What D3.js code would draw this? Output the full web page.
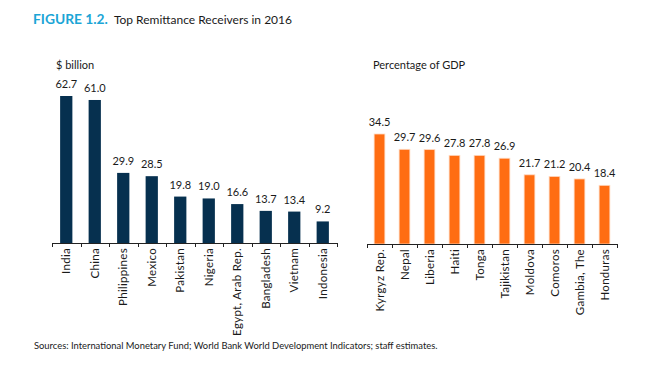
<!DOCTYPE html>
<html>
<head>
<meta charset="utf-8">
<title>Top Remittance Receivers in 2016</title>
<script src="https://cdnjs.cloudflare.com/ajax/libs/d3/7.8.5/d3.min.js"></script>
<style>
	body, html { margin: 0; background: #fff; }
	text { font-family: Lato, "Open Sans", sans-serif; fill: #1a1a1a; }
	.domain, .tick line { stroke: #222; }
</style>
</head>
<body>
<div id="chart"></div>
<script>
	// data
	var usdCountries = ["India", "China", "Philippines", "Mexico", "Pakistan", "Nigeria", "Egypt, Arab Rep.", "Bangladesh", "Vietnam", "Indonesia"];
	var usdValues = [62.7, 61.0, 29.9, 28.5, 19.8, 19.0, 16.6, 13.7, 13.4, 9.2];
	var gdpCountries = ["Kyrgyz Rep.", "Nepal", "Liberia", "Haiti", "Tonga", "Tajikistan", "Moldova", "Comoros", "Gambia, The", "Honduras"];
	var gdpValues = [34.5, 29.7, 29.6, 27.8, 27.8, 26.9, 21.7, 21.2, 20.4, 18.4];

	var w = 665, h = 366;
	var svg = d3.select("#chart").append("svg")
		.attr("width", w)
		.attr("height", h);

	// title
	var title = svg.append("text")
		.attr("x", 33)
		.attr("y", 24);
	title.append("tspan")
		.attr("font-weight", "bold")
		.style("font-size", "13.8px")
		.style("fill", "#1ba5d6")
		.text("FIGURE 1.2.");
	title.append("tspan")
		.attr("dx", 6)
		.style("font-size", "12px")
		.text("Top Remittance Receivers in 2016");

	function panel(opts) {
		var x = d3.scaleBand()
			.domain(opts.cats)
			.range([opts.x0, opts.x1])
			.paddingInner(0.57)
			.paddingOuter(0.285);
		var y = d3.scaleLinear()
			.domain([0, opts.vmax])
			.range([opts.base, opts.top]);

		var g = svg.append("g");

		g.append("text")
			.attr("x", opts.labelX)
			.attr("y", 69)
			.style("font-size", "11px")
			.text(opts.unit);

		g.selectAll("rect").data(opts.vals)
			.enter().append("rect")
			.attr("x", function (d, i) { return x(opts.cats[i]); })
			.attr("y", function (d) { return y(d); })
			.attr("width", x.bandwidth())
			.attr("height", function (d) { return opts.base - y(d); })
			.attr("fill", opts.color)
			.attr("stroke", opts.stroke)
			.attr("stroke-width", opts.stroke == "none" ? 0 : 0.8);

		g.selectAll(".val").data(opts.vals)
			.enter().append("text")
			.attr("class", "val")
			.attr("x", function (d, i) { return x(opts.cats[i]) + x.bandwidth() / 2; })
			.attr("y", function (d) { return y(d) - 8; })
			.attr("text-anchor", "middle")
			.style("font-size", "11px")
			.text(function (d) { return d.toFixed(1); });

		// axis with ticks between bands
		var step = x.step();
		var ticks = d3.range(opts.cats.length + 1).map(function (i) { return opts.x0 + i * step; });
		g.append("line")
			.attr("class", "domain")
			.attr("x1", opts.x0).attr("x2", opts.x1)
			.attr("y1", opts.base + 0.5).attr("y2", opts.base + 0.5);
		g.selectAll(".tk").data(ticks)
			.enter().append("line")
			.attr("class", "tk")
			.attr("stroke", "#222")
			.attr("x1", function (d) { return Math.round(d) + 0.5; })
			.attr("x2", function (d) { return Math.round(d) + 0.5; })
			.attr("y1", opts.base)
			.attr("y2", opts.base + 4);

		g.selectAll(".cat").data(opts.cats)
			.enter().append("text")
			.attr("class", "cat")
			.attr("text-anchor", "end")
			.attr("transform", function (d) {
				return "translate(" + (x(d) + x.bandwidth() / 2 + 4) + "," + (opts.base + 5) + ") rotate(-90)";
			})
			.style("font-size", "11.5px")
			.style("letter-spacing", "0.3px")
			.text(function (d) { return d; });
	}

	panel({
		cats: usdCountries, vals: usdValues,
		x0: 52, x1: 337, base: 243, top: 96, vmax: 62.7,
		color: "#06304f", stroke: "none",
		unit: "$ billion", labelX: 56
	});

	panel({
		cats: gdpCountries, vals: gdpValues,
		x0: 367, x1: 617, base: 244, top: 134, vmax: 34.5,
		color: "#ff6d12", stroke: "#ffd9c2",
		unit: "Percentage of GDP", labelX: 373
	});

	svg.append("text")
		.attr("x", 34)
		.attr("y", 349)
		.style("font-size", "9.4px")
		.text("Sources: International Monetary Fund; World Bank World Development Indicators; staff estimates.");
</script>
</body>
</html>
